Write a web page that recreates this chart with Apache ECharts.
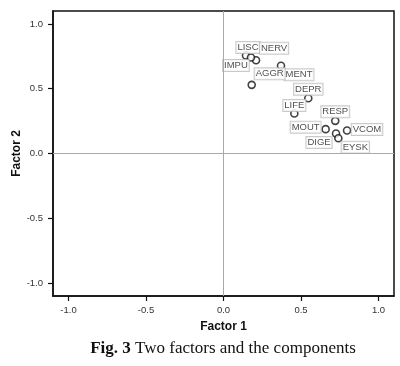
<!DOCTYPE html>
<html>
<head>
<meta charset="utf-8">
<script src="https://cdn.jsdelivr.net/npm/echarts@6/dist/echarts.min.js"></script>
<style>
html,body{margin:0;padding:0;background:#fff;}
#chart{width:400px;height:366px;}
</style>
</head>
<body>
<div id="chart"></div>
<script>
// Data
var names = ['LISC','NERV','IMPU','MENT','AGGR','DEPR','LIFE','RESP','MOUT','VCOM','DIGE','EYSK'];
var factor1 = [0.145, 0.21, 0.177, 0.371, 0.182, 0.547, 0.457, 0.721, 0.659, 0.797, 0.726, 0.741];
var factor2 = [0.757, 0.72, 0.741, 0.677, 0.53, 0.427, 0.309, 0.252, 0.188, 0.178, 0.154, 0.118];
var ticks = [-1.0, -0.5, 0.0, 0.5, 1.0];

// Label placement (layout only)
var labelOffset = {
  LISC: [2, -8], NERV: [18, -12], IMPU: [-15, 8], MENT: [18, 9], AGGR: [18, -11],
  DEPR: [0, -9], LIFE: [0, -8], RESP: [0, -9], MOUT: [-20, -2], VCOM: [20, -1],
  DIGE: [-17, 9], EYSK: [17, 9]
};

var points = names.map(function (n, i) {
  return {
    name: n,
    value: [factor1[i], factor2[i]],
    label: { offset: labelOffset[n] }
  };
});

var chart = echarts.init(document.getElementById('chart'), null, { renderer: 'canvas' });
var axisLbl = { color: '#333', fontSize: 9.5, fontFamily: 'Liberation Sans, Arial, sans-serif',
  formatter: function (v) { return v.toFixed(1); } };

chart.setOption({
  animation: false,
  backgroundColor: '#fff',
  grid: { left: 53, top: 11, right: 6, bottom: 70, containLabel: false, outerBoundsMode: 'none',
    show: true, borderColor: '#111', borderWidth: 1.5, backgroundColor: 'transparent' },
  xAxis: {
    type: 'value', min: -1.1, max: 1.1,
    axisLabel: Object.assign({ margin: 9, customValues: ticks }, axisLbl),
    axisTick: { show: true, length: 5, lineStyle: { color: '#111', width: 1.2 }, customValues: ticks },
    axisLine: { show: true, onZero: false, lineStyle: { color: '#111', width: 1.5 } },
    splitLine: { show: false },
    name: 'Factor 1', nameLocation: 'middle', nameGap: 25, nameMoveOverlap: false,
    nameTextStyle: { color: '#111', fontSize: 12, fontWeight: 'bold', fontFamily: 'Liberation Sans, Arial, sans-serif' }
  },
  yAxis: {
    type: 'value', min: -1.1, max: 1.1,
    axisLabel: Object.assign({ margin: 10, customValues: ticks }, axisLbl),
    axisTick: { show: true, length: 5, lineStyle: { color: '#111', width: 1.2 }, customValues: ticks },
    axisLine: { show: true, onZero: false, lineStyle: { color: '#111', width: 1.5 } },
    splitLine: { show: false },
    name: 'Factor 2', nameLocation: 'middle', nameGap: 30, nameRotate: 90, nameMoveOverlap: false,
    nameTextStyle: { color: '#111', fontSize: 12, fontWeight: 'bold', fontFamily: 'Liberation Sans, Arial, sans-serif' }
  },
  graphic: [{
    type: 'text', x: 223, y: 349,
    style: {
      text: '{b|Fig. 3} Two factors and the components',
      align: 'center', verticalAlign: 'middle',
      rich: { b: { fontWeight: 'bold', fontSize: 17, fontFamily: 'Liberation Serif, Times New Roman, serif', fill: '#111' } },
      fontSize: 17, fontFamily: 'Liberation Serif, Times New Roman, serif', fill: '#111'
    }
  }],
  series: [{
    type: 'scatter',
    data: points,
    symbol: 'circle', symbolSize: 7,
    itemStyle: { color: '#fff', borderColor: '#111', borderWidth: 1.6 },
    label: {
      show: true, position: 'inside', formatter: '{b}',
      color: '#222', fontSize: 9.5, fontFamily: 'Liberation Sans, Arial, sans-serif',
      backgroundColor: '#fff', borderColor: '#bbb', borderWidth: 1, padding: [1, 1, 0, 1]
    },
    markLine: {
      silent: true, symbol: 'none', label: { show: false },
      lineStyle: { color: '#aaa', width: 1, type: 'solid' },
      data: [{ xAxis: 0 }, { yAxis: 0 }]
    },
    z: 3
  }]
});
</script>
</body>
</html>
